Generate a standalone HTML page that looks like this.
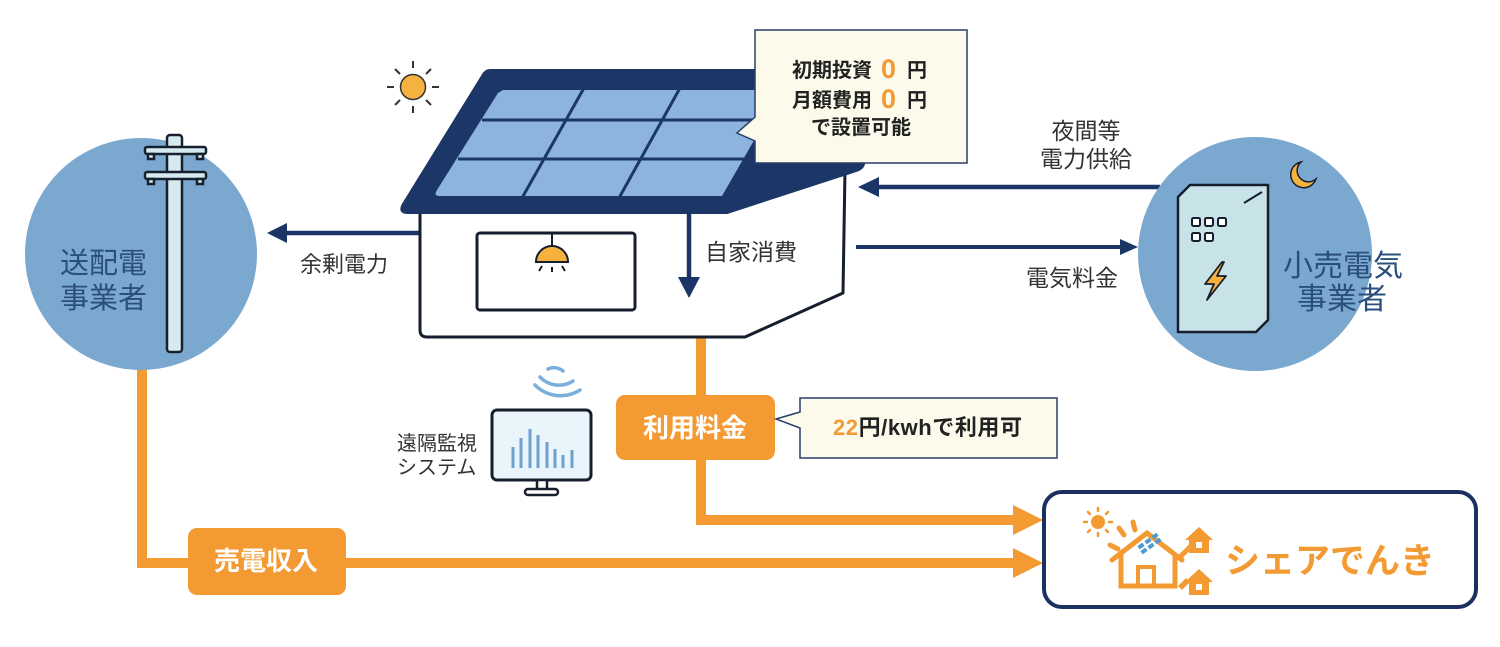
<!DOCTYPE html>
<html><head><meta charset="utf-8">
<style>
html,body{margin:0;padding:0;background:#fff;}
svg{display:block;}
text{font-family:"Liberation Sans","Noto Sans CJK JP",sans-serif;}
</style></head>
<body>
<svg width="1500" height="647" viewBox="0 0 1500 647" xmlns="http://www.w3.org/2000/svg">
<rect width="1500" height="647" fill="#fff"/>

<!-- orange flow lines -->
<g stroke="#f39a33" stroke-width="10" fill="none">
  <polyline points="142,360 142,563 1016,563"/>
  <polyline points="701,330 701,520 1016,520"/>
</g>
<polygon points="1013,505 1043,520 1013,535" fill="#f39a33"/>
<polygon points="1013,548 1043,563 1013,578" fill="#f39a33"/>

<!-- left circle -->
<circle cx="141" cy="254" r="116" fill="#7ba8cf"/>
<!-- pole -->
<g stroke="#16202e" stroke-width="2.5" fill="#d6ebef">
  <rect x="167" y="135" width="15" height="217" rx="3"/>
  <rect x="145" y="147" width="61" height="7" rx="2"/>
  <rect x="145" y="172" width="61" height="7" rx="2"/>
  <rect x="148" y="154" width="6" height="5"/>
  <rect x="197" y="154" width="6" height="5"/>
  <rect x="148" y="179" width="6" height="5"/>
  <rect x="197" y="179" width="6" height="5"/>
</g>
<text x="60" y="273" font-size="29" fill="#2b4f7c">送配電</text>
<text x="60" y="308" font-size="29" fill="#2b4f7c">事業者</text>

<!-- left arrow -->
<line x1="425" y1="233" x2="285" y2="233" stroke="#1b3566" stroke-width="4.5"/>
<polygon points="287,223 267,233 287,243" fill="#1b3566"/>
<text x="300" y="272" font-size="22" fill="#333">余剰電力</text>

<!-- sun -->
<g stroke="#333" stroke-width="2">
  <line x1="413" y1="61" x2="413" y2="68"/>
  <line x1="413" y1="106" x2="413" y2="113"/>
  <line x1="387" y1="87" x2="394" y2="87"/>
  <line x1="432" y1="87" x2="439" y2="87"/>
  <line x1="395" y1="69" x2="400" y2="74"/>
  <line x1="426" y1="100" x2="431" y2="105"/>
  <line x1="431" y1="69" x2="426" y2="74"/>
  <line x1="400" y1="100" x2="395" y2="105"/>
</g>
<circle cx="413" cy="87" r="12.5" fill="#f6b23f" stroke="#333" stroke-width="1.5"/>

<!-- house wall -->
<path d="M420,205 L420,330 Q420,337 427,337 L745,337 L843,293 L845,170 Z" fill="#fff" stroke="#161d2c" stroke-width="3" stroke-linejoin="round"/>
<!-- roof -->
<path d="M490,70 L830,70 L864,158 Q866,168 856,171 L727,213 L408,213 Q398,213 403,204 L482,76 Q485,70 490,70 Z" fill="#1c3767" stroke="#1c3767" stroke-width="2" stroke-linejoin="round"/>
<!-- panels -->
<path d="M503,90 L783,90 L722,196 L440,196 Q433,196 437,190 L498,93 Z" fill="#8db4dc"/>
<g stroke="#1c3767" stroke-width="3">
  <line x1="482" y1="120" x2="780" y2="120"/>
  <line x1="458" y1="159" x2="760" y2="159"/>
  <line x1="584" y1="88" x2="522" y2="198"/>
  <line x1="680" y1="88" x2="619" y2="198"/>
</g>
<!-- window -->
<rect x="477" y="233" width="158" height="77" rx="3" fill="#fff" stroke="#161d2c" stroke-width="3"/>
<line x1="552" y1="233" x2="552" y2="247" stroke="#161d2c" stroke-width="2"/>
<path d="M536,262 A16,16 0 0 1 568,262 Z" fill="#f6b23f" stroke="#161d2c" stroke-width="2"/>
<g stroke="#161d2c" stroke-width="2">
  <line x1="542" y1="266" x2="539" y2="271"/>
  <line x1="552" y1="267" x2="552" y2="272"/>
  <line x1="562" y1="266" x2="565" y2="271"/>
</g>
<!-- self consumption arrow -->
<line x1="689" y1="213" x2="689" y2="282" stroke="#1b3566" stroke-width="4.5"/>
<polygon points="678,277 700,277 689,298" fill="#1b3566"/>
<text x="705" y="260" font-size="23" fill="#333">自家消費</text>

<!-- bubble 1 -->
<path d="M755,30 L967,30 L967,163 L755,163 L755,141 L737,133 L755,117 Z" fill="#fbfaeb" stroke="#2a3d6b" stroke-width="1.5"/>
<g font-weight="bold" fill="#222">
  <text x="792" y="77" font-size="20">初期投資</text>
  <text x="881" y="78" font-size="27" fill="#f39a33">0</text>
  <text x="907" y="77" font-size="20">円</text>
  <text x="792" y="107" font-size="20">月額費用</text>
  <text x="881" y="108" font-size="27" fill="#f39a33">0</text>
  <text x="907" y="107" font-size="20">円</text>
  <text x="811" y="134" font-size="20">で設置可能</text>
</g>

<!-- right arrows -->
<line x1="1160" y1="187" x2="875" y2="187" stroke="#1b3566" stroke-width="4.5"/>
<polygon points="879,177 858,187 879,197" fill="#1b3566"/>
<line x1="856" y1="247" x2="1122" y2="247" stroke="#1b3566" stroke-width="4"/>
<polygon points="1120,239 1138,247 1120,255" fill="#1b3566"/>
<text x="1086" y="139" font-size="23" fill="#333" text-anchor="middle">夜間等</text>
<text x="1086" y="167" font-size="23" fill="#333" text-anchor="middle">電力供給</text>
<text x="1072" y="286" font-size="23" fill="#333" text-anchor="middle">電気料金</text>

<!-- right circle -->
<circle cx="1255" cy="254" r="117" fill="#7ba8cf"/>
<path d="M1178,197 L1190,185 L1268,185 L1268,320 L1256,332 L1178,332 Z" fill="#c8e3e8" stroke="#161d2c" stroke-width="2.5" stroke-linejoin="round"/>
<line x1="1244" y1="203" x2="1262" y2="192" stroke="#161d2c" stroke-width="2"/>
<g fill="#fff" stroke="#161d2c" stroke-width="2">
  <rect x="1192" y="218" width="8" height="8" rx="1.5"/>
  <rect x="1205" y="218" width="8" height="8" rx="1.5"/>
  <rect x="1218" y="218" width="8" height="8" rx="1.5"/>
  <rect x="1192" y="233" width="8" height="8" rx="1.5"/>
  <rect x="1205" y="233" width="8" height="8" rx="1.5"/>
</g>
<polygon points="1222,262 1205,284 1214,284 1207,300 1226,276 1217,276 1224,262" fill="#f6b23f" stroke="#161d2c" stroke-width="1.8" stroke-linejoin="round"/>
<path d="M1301,162 A13,13 0 1 0 1316,179 A11,11 0 1 1 1301,162 Z" fill="#f6b23f" stroke="#161d2c" stroke-width="1.5"/>
<text x="1343" y="276" font-size="30" fill="#2b4f7c" text-anchor="middle">小売電気</text>
<text x="1342" y="309" font-size="30" fill="#2b4f7c" text-anchor="middle">事業者</text>

<!-- remote monitor -->
<text x="397" y="450" font-size="20" fill="#333">遠隔監視</text>
<text x="397" y="474" font-size="20" fill="#333">システム</text>
<g fill="none" stroke="#7aaedb" stroke-width="3.5" stroke-linecap="round">
  <path d="M548,369 A14,14 0 0 1 563,371"/>
  <path d="M540,377 A26,26 0 0 0 573,381"/>
  <path d="M535,385 A36,36 0 0 0 580,390"/>
</g>
<rect x="492" y="410" width="99" height="70" rx="5" fill="#e9f4fb" stroke="#161d2c" stroke-width="3"/>
<rect x="537" y="480" width="10" height="10" fill="#fff" stroke="#161d2c" stroke-width="2.5"/>
<rect x="525" y="489" width="33" height="6" rx="3" fill="#fff" stroke="#161d2c" stroke-width="2.5"/>
<g stroke="#6fa0d0" stroke-width="3">
  <line x1="513" y1="447" x2="513" y2="468"/>
  <line x1="521" y1="438" x2="521" y2="468"/>
  <line x1="530" y1="429" x2="530" y2="468"/>
  <line x1="538" y1="435" x2="538" y2="468"/>
  <line x1="547" y1="442" x2="547" y2="468"/>
  <line x1="555" y1="449" x2="555" y2="468"/>
  <line x1="563" y1="455" x2="563" y2="468"/>
  <line x1="572" y1="450" x2="572" y2="468"/>
</g>

<!-- usage fee box -->
<rect x="616" y="395" width="159" height="65" rx="9" fill="#f39a33"/>
<text x="695" y="437" font-size="26" font-weight="bold" fill="#fff" text-anchor="middle">利用料金</text>
<path d="M800,398 L1057,398 L1057,458 L800,458 L800,428 L776,419 L800,412 Z" fill="#fbfaeb" stroke="#2a3d6b" stroke-width="1.5"/>
<text x="833" y="435" font-size="22" font-weight="bold" fill="#222" textLength="189" lengthAdjust="spacing"><tspan fill="#f39a33">22</tspan>円/kwhで利用可</text>

<!-- sales income box -->
<rect x="188" y="528" width="158" height="67" rx="9" fill="#f39a33"/>
<text x="266" y="570" font-size="26" font-weight="bold" fill="#fff" text-anchor="middle">売電収入</text>

<!-- share denki -->
<rect x="1044" y="492" width="432" height="115" rx="18" fill="#fff" stroke="#1b3060" stroke-width="4"/>
<g fill="#f39a33">
  <circle cx="1098" cy="522" r="7"/>
</g>
<g stroke="#f39a33" stroke-width="2.5" stroke-linecap="round">
  <line x1="1098" y1="508" x2="1098" y2="511"/>
  <line x1="1098" y1="533" x2="1098" y2="536"/>
  <line x1="1084" y1="522" x2="1087" y2="522"/>
  <line x1="1109" y1="522" x2="1112" y2="522"/>
  <line x1="1088" y1="512" x2="1090" y2="514"/>
  <line x1="1106" y1="530" x2="1108" y2="532"/>
  <line x1="1108" y1="512" x2="1106" y2="514"/>
  <line x1="1090" y1="530" x2="1088" y2="532"/>
</g>
<g stroke="#f39a33" stroke-width="5" stroke-linecap="round" fill="none">
  <line x1="1119" y1="528" x2="1124" y2="535"/>
  <line x1="1133" y1="522" x2="1135" y2="530"/>
  <line x1="1110" y1="545" x2="1118" y2="549"/>
  <path d="M1112,560 L1147,533 L1182,560"/>
  <path d="M1121,555 L1121,586 L1175,586 L1175,555"/>
  <rect x="1138" y="567" width="16" height="19" stroke-width="4"/>
  <line x1="1180" y1="557" x2="1192" y2="545"/>
</g>
<g fill="#4a9bd6">
  <rect x="1138" y="544" width="6" height="4" transform="rotate(-35 1141 546)"/>
  <rect x="1145" y="539" width="6" height="4" transform="rotate(-35 1148 541)"/>
  <rect x="1152" y="534" width="6" height="4" transform="rotate(-35 1155 536)"/>
  <rect x="1141" y="549" width="6" height="4" transform="rotate(-35 1144 551)"/>
  <rect x="1148" y="544" width="6" height="4" transform="rotate(-35 1151 546)"/>
  <rect x="1155" y="539" width="6" height="4" transform="rotate(-35 1158 541)"/>
</g>
<g fill="#f39a33">
  <polygon points="1185,540 1199,527 1213,540 1209,540 1209,553 1189,553 1189,540"/>
  <polygon points="1185,582 1199,569 1213,582 1209,582 1209,595 1189,595 1189,582"/>
  <polygon points="1182,590 1178,586 1186,578 1190,582"/>
</g>
<rect x="1196" y="542" width="6" height="6" fill="#fff"/>
<rect x="1196" y="584" width="6" height="6" fill="#fff"/>
<text x="1225" y="573" font-size="35" font-weight="bold" fill="#f39a33">シェアでんき</text>

</svg>
</body></html>
